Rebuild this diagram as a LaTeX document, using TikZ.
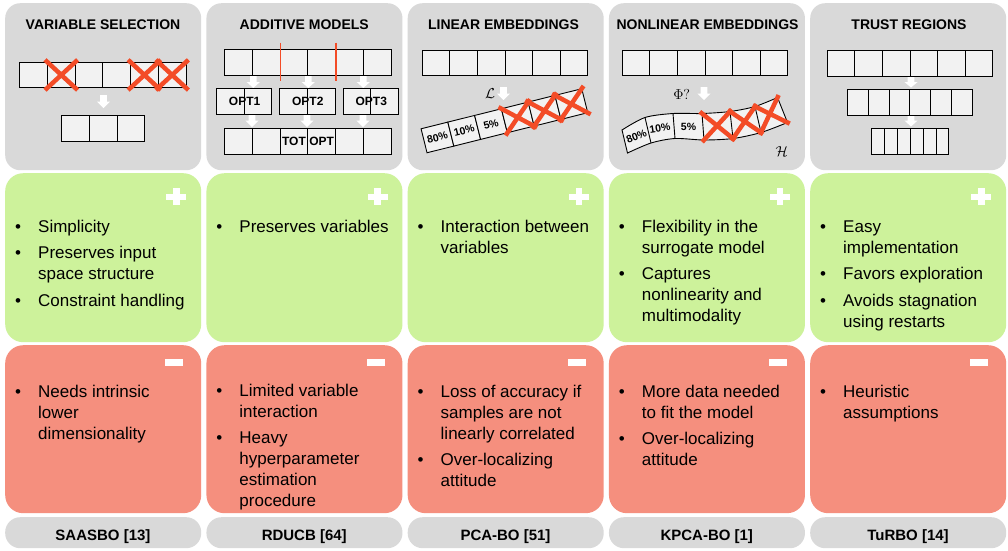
\documentclass[tikz,border=0pt]{standalone}
\usepackage{fontspec}
\setmainfont{Liberation Sans}
\usetikzlibrary{calc}

\definecolor{boxgray}{RGB}{217,217,217}
\definecolor{progreen}{RGB}{205,242,155}
\definecolor{conred}{RGB}{245,143,126}
\definecolor{cellgray}{RGB}{242,242,242}
\definecolor{crossred}{RGB}{243,76,39}

\tikzset{
  panel/.style={rounded corners=15, minimum width=196, anchor=north west, inner sep=0},
  cell/.style={draw=black, fill=cellgray, line width=0.9, inner sep=0, anchor=north west},
  cross/.style={draw=crossred, line width=4.5},
  splitline/.style={draw=crossred, line width=1.7},
  title/.style={anchor=base, inner sep=0, font=\fontsize{14}{16}\selectfont\bfseries},
  reflabel/.style={anchor=base, inner sep=0, font=\fontsize{15}{18}\selectfont\bfseries},
  optlabel/.style={inner sep=0, font=\fontsize{12}{14}\selectfont\bfseries},
  pct/.style={inner sep=0, font=\fontsize{10.5}{12}\selectfont\bfseries},
  mapsym/.style={inner sep=0, font=\fontsize{15}{18}\selectfont},
  blt/.style={anchor=base west, inner sep=0, font=\fontsize{17}{21}\selectfont},
  itm/.style={anchor=base west, inner sep=0, font=\fontsize{17}{21}\selectfont}
}

% bullet item: name, left edge of panel, first baseline, lines
\newcommand{\bitem}[4]{%
  \node[blt] (#1b) at (#2+10,#3) {\textbullet};
  \node[itm] (#1) at (#2+33,#3) {\begin{tabular}[t]{@{}l@{}}#4\end{tabular}};}
% white block arrow: centre x, top y, height
\newcommand{\downarr}[3]{\fill[white] (#1-3.3,#2) -- (#1+3.3,#2) -- (#1+3.3,#2+0.5*#3)
  -- (#1+6.6,#2+0.5*#3) -- (#1,#2+#3) -- (#1-6.6,#2+0.5*#3) -- (#1-3.3,#2+0.5*#3) -- cycle;}
% cross over a quad: nw, sw, ne, se
\newcommand{\xquad}[4]{\draw[cross] ($(#1)!-0.07!(#4)$) -- ($(#4)!-0.07!(#1)$)
  ($(#2)!-0.07!(#3)$) -- ($(#3)!-0.07!(#2)$);}
\newcommand{\xcell}[1]{\xquad{#1.north west}{#1.south west}{#1.north east}{#1.south east}}

\begin{document}
\begin{tikzpicture}[x=1pt, y=-1pt]
\useasboundingbox[fill=white] (0,0) rectangle (1008,550);

% panels
\foreach \n/\L in {1/5, 2/206.25, 3/407.5, 4/608.75, 5/810} {
  \node[panel, fill=boxgray, minimum height=167] (head\n) at (\L,3) {};
  \node[panel, fill=progreen, minimum height=169, rounded corners=18] (pro\n) at (\L,173) {};
  \node[panel, fill=conred, minimum height=168, rounded corners=18] (con\n) at (\L,345) {};
  \node[panel, fill=boxgray, minimum height=31] (ref\n) at (\L,517) {};
  \fill[white] ($(pro\n.north east)+(-35,20.5)$) rectangle ($(pro\n.north east)+(-15,27)$);
  \fill[white] ($(pro\n.north east)+(-28.2,15.3)$) rectangle ($(pro\n.north east)+(-21.8,32)$);
  \fill[white] ($(con\n.north east)+(-36,14.3)$) rectangle ($(con\n.north east)+(-18,21)$);
}

% titles
\node[title] (ttl1) at (103,29.3) {VARIABLE SELECTION};
\node[title] (ttl2) at (304.25,29.3) {ADDITIVE MODELS};
\node[title] (ttl3) at (503.5,29.3) {LINEAR EMBEDDINGS};
\node[title] (ttl4) at (707.5,29.3) {NONLINEAR EMBEDDINGS};
\node[title] (ttl5) at (909,29.3) {TRUST REGIONS};

% variable selection
\downarr{103.5}{95}{13}
\foreach \i in {0,...,5}
  \node[cell, minimum width=27.7, minimum height=25.6] (vs\i) at (19.3+27.7*\i,61.7) {};
\foreach \i in {0,1,2}
  \node[cell, minimum width=27.7, minimum height=25.6] (vk\i) at (61.3+27.7*\i,115.3) {};
\xcell{vs1} \xcell{vs4} \xcell{vs5}

% additive models
\downarr{253.3}{76}{12} \downarr{308.3}{76}{12} \downarr{363.3}{76}{12}
\downarr{252}{114}{13} \downarr{307}{114}{13} \downarr{363}{114}{13}
\foreach \i in {0,...,5}
  \node[cell, minimum width=27.7, minimum height=25.7] (am\i) at (224.3+27.7*\i,49.3) {};
\foreach \g/\gx in {1/216, 2/279.2, 3/342.7} {
  \node[cell, minimum width=27.7, minimum height=25.7] (op\g a) at (\gx,88.3) {};
  \node[cell, minimum width=27.7, minimum height=25.7] (op\g b) at (\gx+27.7,88.3) {};
  \node[optlabel] (opl\g) at (op\g a.east) {OPT\g};
}
\foreach \i in {0,...,5}
  \node[cell, minimum width=27.7, minimum height=25.7] (tc\i) at (224.3+27.7*\i,128.3) {};
\node[optlabel] (tot) at (tc2) {TOT};
\node[optlabel] (opt) at (tc3) {OPT};
\draw[splitline] (am1.north east) ++(0,-6.6) -- ++(0,38.3);
\draw[splitline] (am3.north east) ++(0,-6.6) -- ++(0,38.3);

% linear embeddings
\downarr{503.5}{87}{13}
\node[mapsym] (lmap) at (490,94) {$\mathcal{L}$};
\foreach \i in {0,...,5}
  \node[cell, minimum width=27.6, minimum height=25] (le\i) at (421.7+27.6*\i,50) {};
\begin{scope}[shift={(426.7,153.3)}, rotate=14, transform shape]
  \foreach \i in {0,...,5}
    \node[cell, anchor=south west, minimum width=27.6, minimum height=24.7] (ls\i) at (27.6*\i,0) {};
  \node[pct] (lp80) at (ls0.center) {80\%};
  \node[pct] (lp10) at (ls1.center) {10\%};
  \node[pct] (lp5) at (ls2.center) {5\%};
\end{scope}
\xcell{ls3} \xcell{ls4} \xcell{ls5}

% nonlinear embeddings
\downarr{704}{87}{13}
\node[mapsym] (kmap) at (681.7,94) {$\Phi?$};
\foreach \i in {0,...,5}
  \node[cell, minimum width=27.6, minimum height=25] (ne\i) at (621.7+27.6*\i,50) {};
\coordinate (t0) at (622,130);   \coordinate (b0) at (627.5,153);
\coordinate (t1) at (645,117.5); \coordinate (b1) at (651,143);
\coordinate (t2) at (673,113.5); \coordinate (b2) at (675,138.5);
\coordinate (t3) at (702,113.5); \coordinate (b3) at (704,140);
\coordinate (t4) at (730,111.5); \coordinate (b4) at (733,138.5);
\coordinate (t5) at (755,106.5); \coordinate (b5) at (761,132.5);
\coordinate (t6) at (777.5,97.5);\coordinate (b6) at (787.5,122.5);
\filldraw[fill=cellgray, line width=0.9]
  plot[smooth] coordinates {(t0) (t1) (t2) (t3) (t4) (t5) (t6)}
  -- plot[smooth] coordinates {(b6) (b5) (b4) (b3) (b2) (b1) (b0)} -- cycle;
\foreach \i in {1,...,5}
  \draw[line width=0.9] (t\i) -- (b\i);
\node[pct, rotate=22] (np80) at ($(t0)!0.5!(b1)$) {80\%};
\node[pct, rotate=9] (np10) at ($(t1)!0.5!(b2)$) {10\%};
\node[pct] (np5) at ($(t2)!0.5!(b3)$) {5\%};
\xquad{t3}{b3}{t4}{b4} \xquad{t4}{b4}{t5}{b5} \xquad{t5}{b5}{t6}{b6}
\node[mapsym] (hspace) at (781.7,152) {$\mathcal{H}$};

% trust regions
\downarr{911}{76.5}{11} \downarr{911}{114.5}{12}
\foreach \i in {0,...,5} {
  \node[cell, minimum width=27.6, minimum height=26] (tr\i) at (826.7+27.6*\i,50) {};
  \node[cell, minimum width=20.9, minimum height=25.7] (tm\i) at (846.7+20.9*\i,89.3) {};
  \node[cell, minimum width=12.9, minimum height=25.7] (ts\i) at (871+12.9*\i,128.3) {};
}

% advantages
\bitem{p1a}{5}{232}{Simplicity}
\bitem{p1b}{5}{258.5}{Preserves input\\space structure}
\bitem{p1c}{5}{306}{Constraint handling}
\bitem{p2a}{206.25}{232}{Preserves variables}
\bitem{p3a}{407.5}{232}{Interaction between\\variables}
\bitem{p4a}{608.75}{232}{Flexibility in the\\surrogate model}
\bitem{p4b}{608.75}{279.5}{Captures\\nonlinearity and\\multimodality}
\bitem{p5a}{810}{232}{Easy\\implementation}
\bitem{p5b}{810}{279.5}{Favors exploration}
\bitem{p5c}{810}{306}{Avoids stagnation\\using restarts}

% drawbacks
\bitem{c1a}{5}{397}{Needs intrinsic\\lower\\dimensionality}
\bitem{c2a}{206.25}{396}{Limited variable\\interaction}
\bitem{c2b}{206.25}{443}{Heavy\\hyperparameter\\estimation\\procedure}
\bitem{c3a}{407.5}{397}{Loss of accuracy if\\samples are not\\linearly correlated}
\bitem{c3b}{407.5}{465.5}{Over-localizing\\attitude}
\bitem{c4a}{608.75}{397}{More data needed\\to fit the model}
\bitem{c4b}{608.75}{444.5}{Over-localizing\\attitude}
\bitem{c5a}{810}{397}{Heuristic\\assumptions}

% methods
\node[reflabel] (m1) at (103,540) {SAASBO [13]};
\node[reflabel] (m2) at (304.25,540) {RDUCB [64]};
\node[reflabel] (m3) at (505.5,540) {PCA-BO [51]};
\node[reflabel] (m4) at (706.75,540) {KPCA-BO [1]};
\node[reflabel] (m5) at (908,540) {TuRBO [14]};
\end{tikzpicture}
\end{document}
